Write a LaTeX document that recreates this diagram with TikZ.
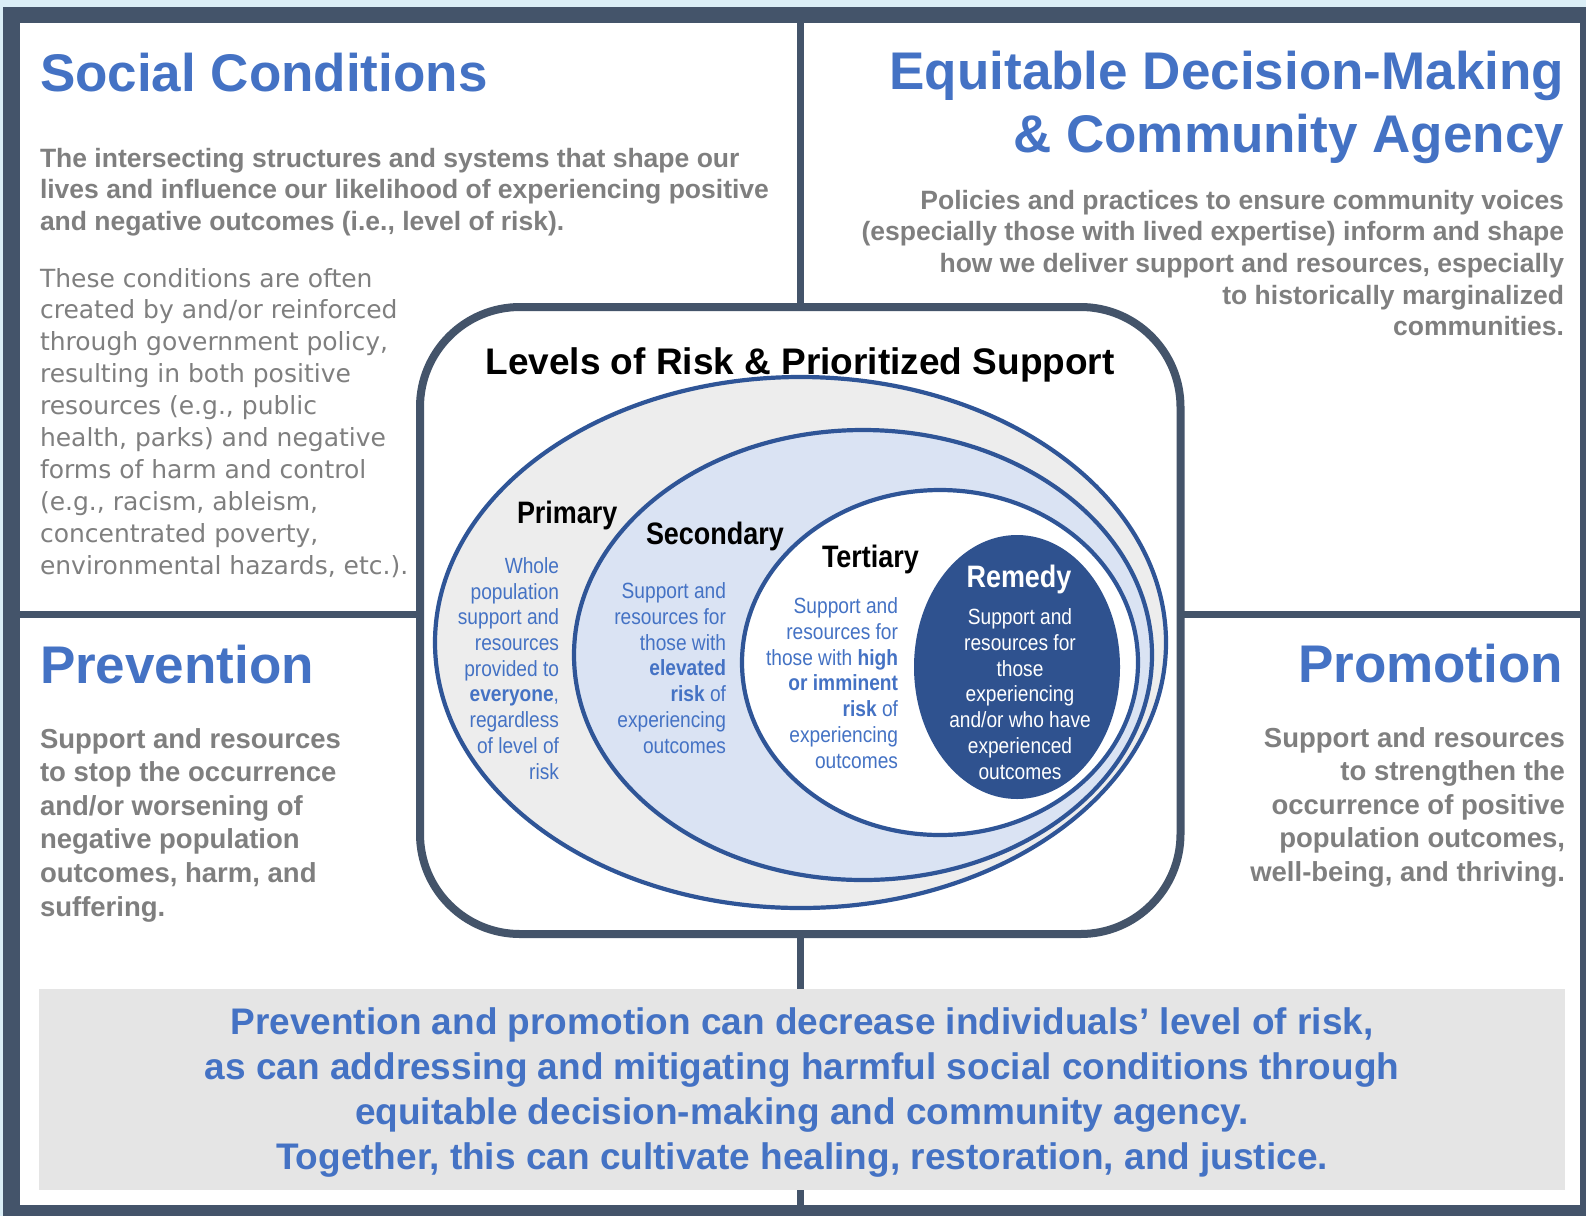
\documentclass[tikz,border=0pt]{standalone}
\usepackage{fontspec}
\setmainfont{Liberation Sans}
\newfontfamily\dvs{DejaVu Sans}
\newfontfamily\cnd[FakeStretch=0.87]{Liberation Sans}
\definecolor{framec}{RGB}{68,84,106}
\definecolor{skyc}{RGB}{219,238,246}
\definecolor{hblue}{RGB}{68,114,196}
\definecolor{tgray}{RGB}{127,127,127}
\definecolor{estroke}{RGB}{47,85,151}
\definecolor{outerf}{RGB}{237,237,237}
\definecolor{secf}{RGB}{218,227,243}
\definecolor{remf}{RGB}{47,82,143}
\definecolor{boxg}{RGB}{229,229,229}
\tikzset{
  txt/.style={inner sep=0pt, outer sep=0pt},
  head/.style={txt, text=hblue, font=\fontsize{53}{63}\selectfont\bfseries},
  gbold/.style={txt, text=tgray, font=\fontsize{26.5}{31.7}\selectfont\bfseries},
  gbig/.style={txt, text=tgray, font=\fontsize{27.5}{33.6}\selectfont\bfseries},
  greg/.style={txt, text=tgray, font=\dvs\fontsize{25}{31.9}\selectfont},
  elab/.style={txt, text=black, font=\cnd\fontsize{31}{36}\selectfont\bfseries},
  ebody/.style={txt, text=hblue, font=\cnd\fontsize{22}{25.7}\selectfont, align=right},
  ering/.style={draw=estroke, line width=4.2pt},
  divider/.style={draw=framec, line width=7pt},
}
\begin{document}
\begin{tikzpicture}[x=1pt,y=-1pt]
\useasboundingbox (0,0) rectangle (1586,1216);
% background and frame
\fill[skyc] (0,0) rectangle (1586,1216);
\fill[framec] (3,7) rectangle (1586,1216);
\fill[white] (19.5,22.5) rectangle (1580,1205);
% dividers
\coordinate (vt) at (800,22);
\coordinate (vb) at (800,1205);
\coordinate (hl) at (19,614);
\coordinate (hr) at (1580,614);
\draw[divider] (vt) -- (vb);
\draw[divider] (hl) -- (hr);
% central box
\draw[draw=framec, fill=white, line width=8pt, rounded corners=100pt] (420,307) rectangle (1180.5,934);
% ellipses
\node[txt] (c1) at (800.5,642.5) {};
\node[txt] (c2) at (863,655) {};
\node[txt] (c3) at (940,662.5) {};
\node[txt] (c4) at (1017,667) {};
\draw[ering, fill=outerf] (c1) ellipse [x radius=365.5pt, y radius=265.5pt];
\draw[ering, fill=secf] (c2) ellipse [x radius=289pt, y radius=225pt];
\draw[ering, fill=white] (c3) ellipse [x radius=198pt, y radius=172.5pt];
\fill[remf] (c4) ellipse [x radius=103pt, y radius=132pt];
% bottom grey box
\fill[boxg] (39,989) rectangle (1565,1190);
% quadrant texts (multi-line nodes: base anchor = last line)
\node[head, anchor=base west] (sc) at (40,91) {Social Conditions};
\node[gbold, anchor=base west, align=left] (scb) at (40,230.4) {The intersecting structures and systems that shape our\\lives and influence our likelihood of experiencing positive\\and negative outcomes (i.e., level of risk).};
\node[greg, anchor=base west, align=left] (scr) at (40,574.1) {These conditions are often\\created by and/or reinforced\\through government policy,\\resulting in both positive\\resources (e.g., public\\health, parks) and negative\\forms of harm and control\\(e.g., racism, ableism,\\concentrated poverty,\\environmental hazards, etc.).};
\node[head, anchor=base east, align=right] (eq) at (1564,152) {Equitable Decision-Making\\\& Community Agency};
\node[gbold, anchor=base east, align=right] (eqb) at (1564,335.8) {Policies and practices to ensure community voices\\(especially those with lived expertise) inform and shape\\how we deliver support and resources, especially\\to historically marginalized\\communities.};
\node[head, anchor=base west] (pv) at (40,683) {Prevention};
\node[gbig, anchor=base west, align=left] (pvb) at (40,916) {Support and resources\\to stop the occurrence\\and/or worsening of\\negative population\\outcomes, harm, and\\suffering.};
\node[head, anchor=base east] (pm) at (1563,682) {Promotion};
\node[gbig, anchor=base east, align=right] (pmb) at (1565,881.4) {Support and resources\\to strengthen the\\occurrence of positive\\population outcomes,\\well-being, and thriving.};
% box title
\node[txt, font=\fontsize{37}{40}\selectfont\bfseries, anchor=base] (lv) at (800,374) {Levels of Risk \& Prioritized Support};
% ellipse labels
\node[elab, anchor=base west] (prl) at (517,523) {Primary};
\node[elab, anchor=base west] (sel) at (646,544) {Secondary};
\node[elab, anchor=base west] (tel) at (822,567) {Tertiary};
\node[elab, anchor=base, text=white] (rel) at (1019,587) {Remedy};
\node[ebody, anchor=base east] (prb) at (559,779) {Whole\\population\\support and\\resources\\provided to\\\textbf{everyone},\\regardless\\of level of\\risk};
\node[ebody, anchor=base east] (seb) at (726,753) {Support and\\resources for\\those with\\\textbf{elevated}\\\textbf{risk} of\\experiencing\\outcomes};
\node[ebody, anchor=base east] (teb) at (898,768) {Support and\\resources for\\those with \textbf{high}\\\textbf{or imminent}\\\textbf{risk} of\\experiencing\\outcomes};
\node[ebody, anchor=base, align=center, text=white] (reb) at (1020,779) {Support and\\resources for\\those\\experiencing\\and/or who have\\experienced\\outcomes};
% bottom statement
\node[txt, text=hblue, font=\fontsize{37}{45}\selectfont\bfseries, align=center, anchor=base] (bt) at (802,1169) {Prevention and promotion can decrease individuals’ level of risk,\\as can addressing and mitigating harmful social conditions through\\equitable decision-making and community agency.\\Together, this can cultivate healing, restoration, and justice.};
\end{tikzpicture}
\end{document}
